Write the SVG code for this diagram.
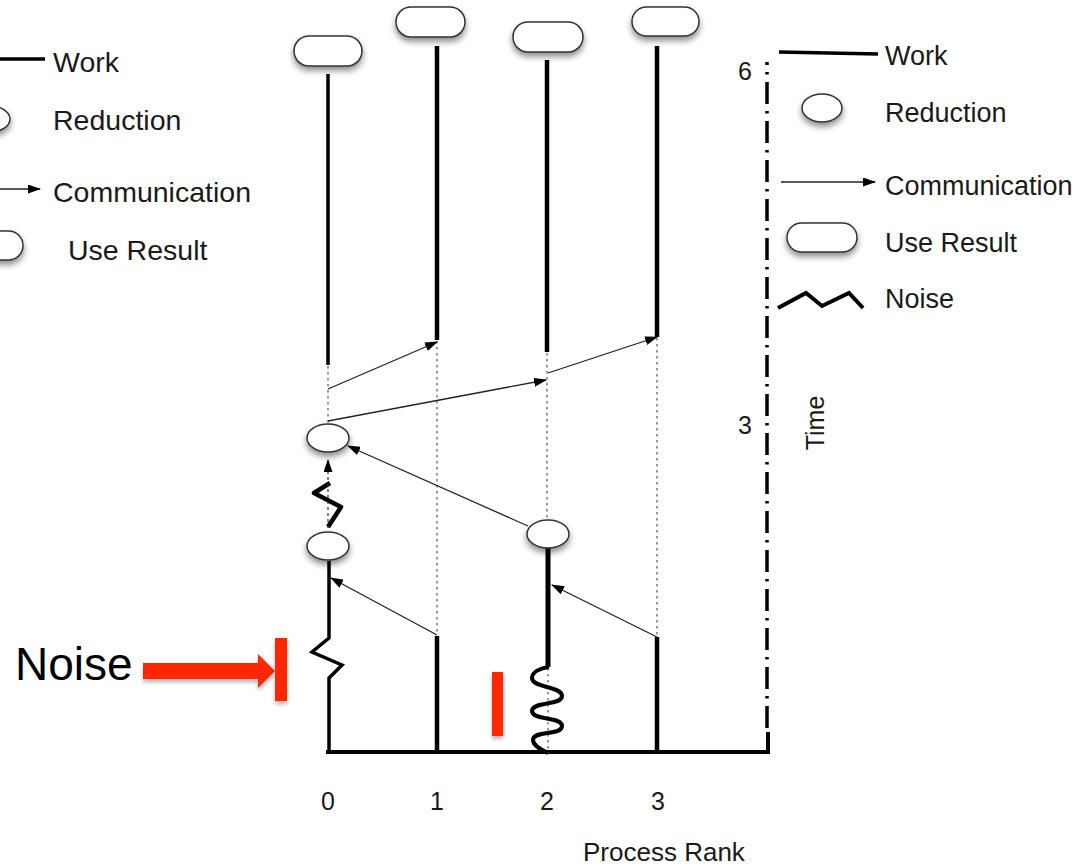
<svg xmlns="http://www.w3.org/2000/svg" width="1089" height="867" viewBox="0 0 1089 867">
<defs>
<filter id="sh" x="-40%" y="-40%" width="180%" height="200%">
<feDropShadow dx="0" dy="4" stdDeviation="3" flood-color="#000" flood-opacity="0.45"/>
</filter>
<filter id="shr" x="-40%" y="-40%" width="180%" height="200%">
<feDropShadow dx="0" dy="3" stdDeviation="2" flood-color="#000" flood-opacity="0.3"/>
</filter>
<marker id="arr" markerUnits="userSpaceOnUse" markerWidth="13" markerHeight="9" refX="12" refY="4.5" orient="auto">
<path d="M0,0 L13,4.5 L0,9 z" fill="#000"/>
</marker>
</defs>
<style>
text{font-family:"Liberation Sans",Arial,sans-serif;fill:#1a1a1a}
.leg{font-size:27px}
.legl{font-size:28.5px}
.num{font-size:25px}
.work{stroke:#000;stroke-width:4.5;fill:none}
.dot{stroke:#555;stroke-width:1.2;stroke-dasharray:2.5 3.5;fill:none}
.comm{stroke:#222;stroke-width:1.3;fill:none;marker-end:url(#arr)}
.ell{fill:#fff;stroke:#333;stroke-width:1.5;filter:url(#sh)}
.res{fill:#fff;stroke:#333;stroke-width:1.5;filter:url(#sh)}
.noise{stroke:#000;stroke-width:4;fill:none;stroke-linejoin:round}
.red{fill:#ff2600;filter:url(#shr)}
</style>

<g id="legend-left">
<line x1="0" y1="59" x2="45" y2="59" stroke="#000" stroke-width="3.5"/>
<text class="legl" x="53" y="72">Work</text>
<ellipse class="ell" cx="-10" cy="119" rx="20" ry="13"/>
<text class="legl" x="53" y="130">Reduction</text>
<line class="comm" x1="0" y1="189" x2="40" y2="189"/>
<text class="legl" x="53" y="202">Communication</text>
<rect class="res" x="-47" y="231" width="70" height="29" rx="14.5"/>
<text class="legl" x="68" y="260">Use Result</text>
</g>

<g id="legend-right">
<line x1="779" y1="52" x2="878" y2="54" stroke="#000" stroke-width="3.5"/>
<text class="leg" x="885" y="65">Work</text>
<ellipse class="ell" cx="822" cy="108" rx="20" ry="14"/>
<text class="leg" x="885" y="122">Reduction</text>
<line class="comm" x1="781" y1="182" x2="875" y2="182"/>
<text class="leg" x="885" y="195">Communication</text>
<rect class="res" x="787" y="223" width="70" height="29" rx="14.5"/>
<text class="leg" x="885" y="252">Use Result</text>
<polyline points="778,308 806,293 822,306 849,293 863,308" stroke="#000" stroke-width="4" fill="none"/>
<text class="leg" x="885" y="308">Noise</text>
</g>

<g id="axes">
<line x1="326" y1="752" x2="770" y2="752" stroke="#000" stroke-width="4"/>
<line x1="767" y1="62" x2="767" y2="732" stroke="#000" stroke-width="3.5" stroke-dasharray="22 7 2.5 7.5" stroke-dashoffset="19"/>
<line x1="768" y1="732" x2="768" y2="754" stroke="#000" stroke-width="4"/>
<text class="num" x="738" y="80">6</text>
<text class="num" x="738" y="434">3</text>
<text class="num" transform="translate(824,423) rotate(-90)" text-anchor="middle">Time</text>
<text class="num" x="328" y="810" text-anchor="middle">0</text>
<text class="num" x="437" y="810" text-anchor="middle">1</text>
<text class="num" x="547" y="810" text-anchor="middle">2</text>
<text class="num" x="658" y="810" text-anchor="middle">3</text>
<text class="num" x="583" y="861" style="font-size:26px">Process Rank</text>
</g>

<g id="rank0">
<line class="work" x1="328" y1="74" x2="328" y2="365" style="stroke-width:3.5"/>
<line class="dot" x1="328" y1="366" x2="328" y2="424"/>
<path class="noise" d="M330,483 L314,493 L341,507 L328,527" style="stroke-width:4.5"/>
<ellipse class="ell" cx="328" cy="438" rx="21" ry="14"/>
<ellipse class="ell" cx="328" cy="546" rx="21" ry="14"/>
<path d="M329,561 L329,638 L312,652 L342,665 L329,678 L329,753" stroke="#000" stroke-width="3.5" fill="none"/>
<rect class="res" x="294" y="36" width="68" height="30" rx="15"/>
</g>

<g id="rank1">
<line class="work" x1="437" y1="46" x2="437" y2="340"/>
<line class="dot" x1="437" y1="341" x2="437" y2="634"/>
<line class="work" x1="437" y1="636" x2="437" y2="753"/>
<rect class="res" x="396" y="7" width="69" height="30" rx="15"/>
</g>

<g id="rank2">
<line class="work" x1="547" y1="60" x2="547" y2="352"/>
<line class="dot" x1="547" y1="353" x2="547" y2="520"/>
<line class="work" x1="548" y1="548" x2="548" y2="667" style="stroke-width:5"/>
<line class="dot" x1="548" y1="668" x2="548" y2="755"/>
<path class="noise" d="M549,667 C540,668 532,672 532,678 C532,688 562,686 562,696 C562,706 532,701 532,711 C532,721 562,716 562,726 C562,736 533,730 533,740 C533,746 542,750 548,753"/>
<ellipse class="ell" cx="548" cy="534" rx="21" ry="14"/>
<rect class="res" x="513" y="22" width="70" height="30" rx="15"/>
</g>

<g id="rank3">
<line class="work" x1="657" y1="46" x2="657" y2="337"/>
<line class="dot" x1="657" y1="338" x2="657" y2="636"/>
<line class="work" x1="657" y1="637" x2="657" y2="753"/>
<rect class="res" x="632" y="7" width="67" height="29" rx="14.5"/>
</g>

<g id="connectors">
<line class="comm" x1="328" y1="389" x2="437" y2="342"/>
<line class="comm" x1="548" y1="373" x2="657" y2="337"/>
<line class="comm" x1="328" y1="421" x2="546" y2="380"/>
<line class="comm" x1="528" y1="526" x2="348" y2="446"/>
<line class="comm" x1="437" y1="635" x2="331" y2="578"/>
<line class="comm" x1="657" y1="637" x2="552" y2="585"/>
<line x1="328" y1="528" x2="328" y2="460" stroke="#333" stroke-width="1.2" stroke-dasharray="3 3" marker-end="url(#arr)"/>
</g>

<g id="noise-callout">
<text x="15" y="680" style="font-size:46px;fill:#000">Noise</text>
<path class="red" d="M143,663 L258,663 L258,654 L275,671 L258,688 L258,679 L143,679 z"/>
<rect class="red" x="275" y="638" width="12" height="63"/>
<rect class="red" x="492" y="672" width="11" height="64"/>
</g>
</svg>
